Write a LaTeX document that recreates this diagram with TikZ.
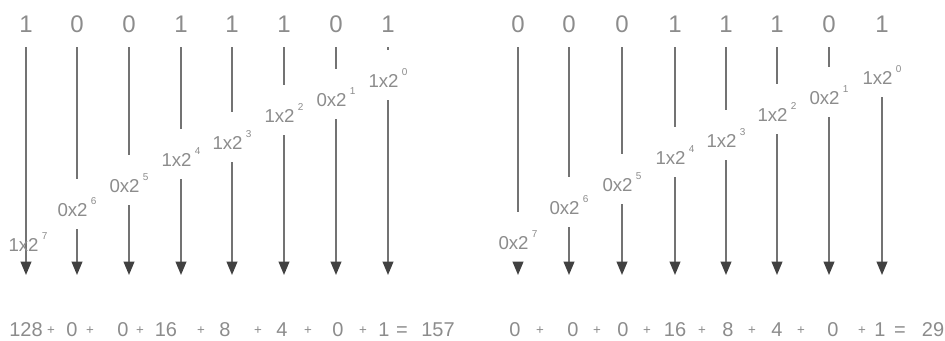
\documentclass[tikz,border=0pt]{standalone}
\usepackage{fontspec}
\setmainfont{Liberation Sans}
\usetikzlibrary{arrows.meta}
\definecolor{bitGray}{RGB}{140,140,140}
\definecolor{lineGray}{RGB}{115,115,115}
\definecolor{headGray}{RGB}{65,65,65}

% power term, e.g. 1x2^4
\newcommand{\pw}[2]{#1x2\hspace{2.5pt}\raisebox{1.2ex}{\fontsize{7.5}{8}\selectfont #2}}

% small plus sign of the sums
\newcommand{\pl}{\raisebox{1pt}{\fontsize{10}{12}\selectfont +}}

% one column: name, x, bit, term, label y
\newcommand{\bitcol}[5]{%
	\node[bitDigit] (#1bit) at (#2, 24) {#3};
	\node[termLabel] (#1term) at (#2, #5) {#4};
	\coordinate (#1end) at (#2, 275);
	\draw[upperLine] (#1bit.center) -- (#1term.center);
	\draw[lowerArrow] (#1term.center) -- (#1end);
}

\tikzset{
	bitDigit/.style = {text=bitGray, font=\fontsize{18}{20}\selectfont, inner sep=0pt},
	termLabel/.style = {text=bitGray, font=\fontsize{14}{16}\selectfont, inner sep=0pt},
	upperLine/.style = {lineGray, line width=1.3pt, shorten <=17.25pt, shorten >=21pt},
	lowerArrow/.style = {lineGray, line width=1.3pt, shorten <=16.5pt,
		-{Triangle[width=8pt, length=10pt, color=headGray]}},
	sumText/.style = {text=bitGray, font=\fontsize{15}{17}\selectfont, anchor=base, inner sep=0pt}
}

\begin{document}
\begin{tikzpicture} [x = 0.75pt, y = -0.75pt]

	\useasboundingbox (0, 0) rectangle (945, 340);

% Left number: 10011101.

	% first column, line runs through its label
	\node[bitDigit] (L7bit) at (26, 24) {1};
	\coordinate (L7end) at (26, 275);
	\draw[lowerArrow, shorten <=17.25pt] (L7bit.center) -- (L7end);
	\node[termLabel] (L7term) at (28, 242) {\pw{1}{7}};

	\bitcol{L6}{77}{0}{\pw{0}{6}}{207}
	\bitcol{L5}{129}{0}{\pw{0}{5}}{183}
	\bitcol{L4}{181}{1}{\pw{1}{4}}{157}
	\bitcol{L3}{232}{1}{\pw{1}{3}}{140}
	\bitcol{L2}{284}{1}{\pw{1}{2}}{113}
	\bitcol{L1}{336}{0}{\pw{0}{1}}{97}
	\bitcol{L0}{388}{1}{\pw{1}{0}}{78}

	% sum: 128 + 0 + 0 + 16 + 8 + 4 + 0 + 1 = 157
	\foreach \x/\t [count=\i] in {26/128, 51/\pl, 72/0, 90/\pl, 123/0, 140/\pl, 166/16, 201/\pl,
		225/8, 258/\pl, 282/4, 308/\pl, 338/0, 363/\pl, 384/1, 402/=, 438/157}
		\node[sumText] (leftSum\i) at (\x, 336) {\t};

% Right number: 00011101.

	\bitcol{R7}{518}{0}{\pw{0}{7}}{240}
	\bitcol{R6}{569}{0}{\pw{0}{6}}{205}
	\bitcol{R5}{622}{0}{\pw{0}{5}}{182}
	\bitcol{R4}{675}{1}{\pw{1}{4}}{155}
	\bitcol{R3}{726}{1}{\pw{1}{3}}{138}
	\bitcol{R2}{777}{1}{\pw{1}{2}}{112}
	\bitcol{R1}{829}{0}{\pw{0}{1}}{95}
	\bitcol{R0}{882}{1}{\pw{1}{0}}{75}

	% sum: 0 + 0 + 0 + 16 + 8 + 4 + 0 + 1 = 29
	\foreach \x/\t [count=\i] in {515/0, 540/\pl, 573/0, 597/\pl, 623/0, 647/\pl, 675/16, 702/\pl,
		728/8, 752/\pl, 777/4, 801/\pl, 833/0, 862/\pl, 880/1, 900/=, 933/29}
		\node[sumText] (rightSum\i) at (\x, 336) {\t};

\end{tikzpicture}
\end{document}
